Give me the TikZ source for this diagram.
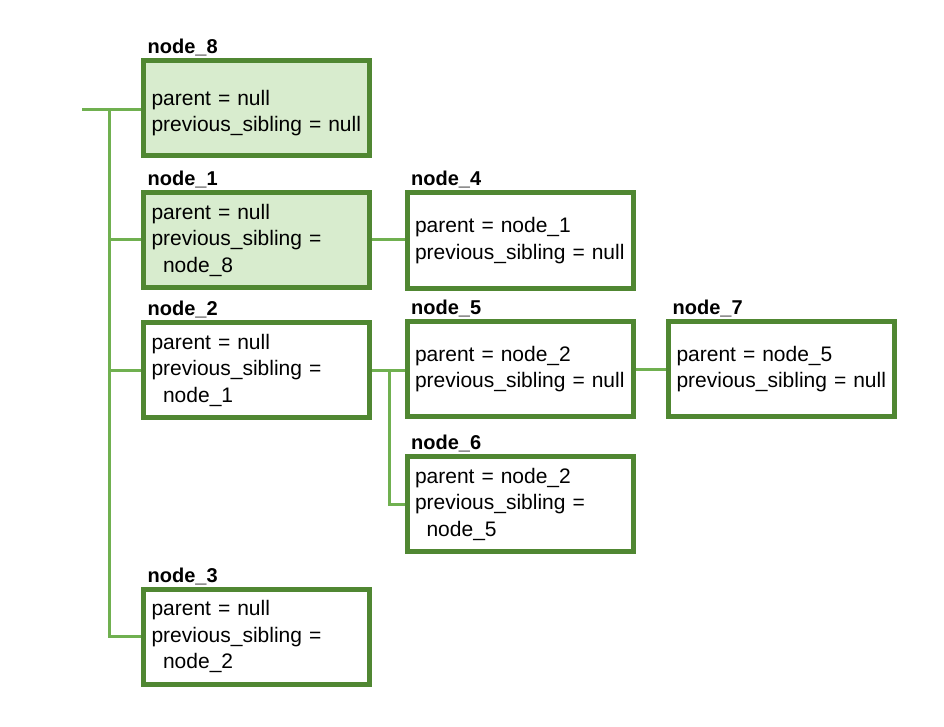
\documentclass[tikz,border=0pt]{standalone}
\usepackage{fontspec}
\setmainfont{Liberation Sans}
\usepackage{tikz}
\usetikzlibrary{calc}
\usetikzlibrary{positioning}
\definecolor{BoxGreen}{RGB}{80,135,50}
\definecolor{LinkGreen}{RGB}{112,176,80}
\definecolor{PaleGreen}{RGB}{216,236,206}
\tikzset{
	record/.style={draw=BoxGreen, line width=5pt, fill=white, outer sep=0pt, minimum width=226pt,
		minimum height=95pt, inner xsep=8pt, text width=210pt, align=left,
		font=\fontsize{21}{26.5}\selectfont},
	rootrecord/.style={record, fill=PaleGreen},
	recordtitle/.style={anchor=base west, inner sep=0pt, font=\fontsize{20}{24}\selectfont\bfseries},
	link/.style={draw=LinkGreen, line width=3pt}
}
\newcommand{\recordText}[2]{parent = #1\\previous\_sibling = #2}
\newcommand{\recordTextLong}[2]{parent = #1\\previous\_sibling =\\\hspace*{0.55em}#2}

\begin{document}
\begin{tikzpicture}[x=1pt, y=-1pt]
	\useasboundingbox (0,0) rectangle (944,727);

		% records
		\node [rootrecord] (n8) at (256.5,108.5) {\rule{0pt}{24pt}\recordText{null}{null}};
		\node [rootrecord] (n1) at (256.5,240) {\recordTextLong{null}{node\_8}};
		\node [record] (n4) at (520,240.5) {\recordText{node\_1}{null}};
		\node [record] (n2) at (256.5,370) {\recordTextLong{null}{node\_1}};
		\node [record] (n5) at (520,369) {\recordText{node\_2}{null}};
		\node [record] (n7) at (781.5,369) {\recordText{node\_5}{null}};
		\node [record] (n6) at (520,504) {\recordTextLong{node\_2}{node\_5}};
		\node [record] (n3) at (256.5,636.5) {\recordTextLong{null}{node\_2}};
		
		% titles
		\foreach \n in {8,1,4,2,5,7,6,3}
			\node [recordtitle] (t\n) at ([shift={(4pt,7pt)}]n\n.north west) {node\_\n};
		
		% connectors
		\coordinate (lead) at (82,110);
		\coordinate (trunk) at (109,110);
		\coordinate (fork) at (389,370);
		
		\draw [link] (lead) -- (n8.west |- lead);
		\draw [link] (trunk) |- (n3.west);
		\draw [link] (trunk |- n1.west) -- (n1.west);
		\draw [link] (trunk |- n2.west) -- (n2.west);
		\draw [link] (n1.east) -- (n4.west |- n1.east);
		\draw [link] (n2.east) -- (n5.west |- n2.east);
		\draw [link] (fork) |- (n6.west);
		\draw [link] (n5.east) -- (n7.west);
		
		% redraw borders over the connector ends
		\foreach \n in {8,1,4,2,5,7,6,3}
			\draw [draw=BoxGreen, line width=5pt] (n\n.north west) rectangle (n\n.south east);
	\end{tikzpicture}
\end{document}
